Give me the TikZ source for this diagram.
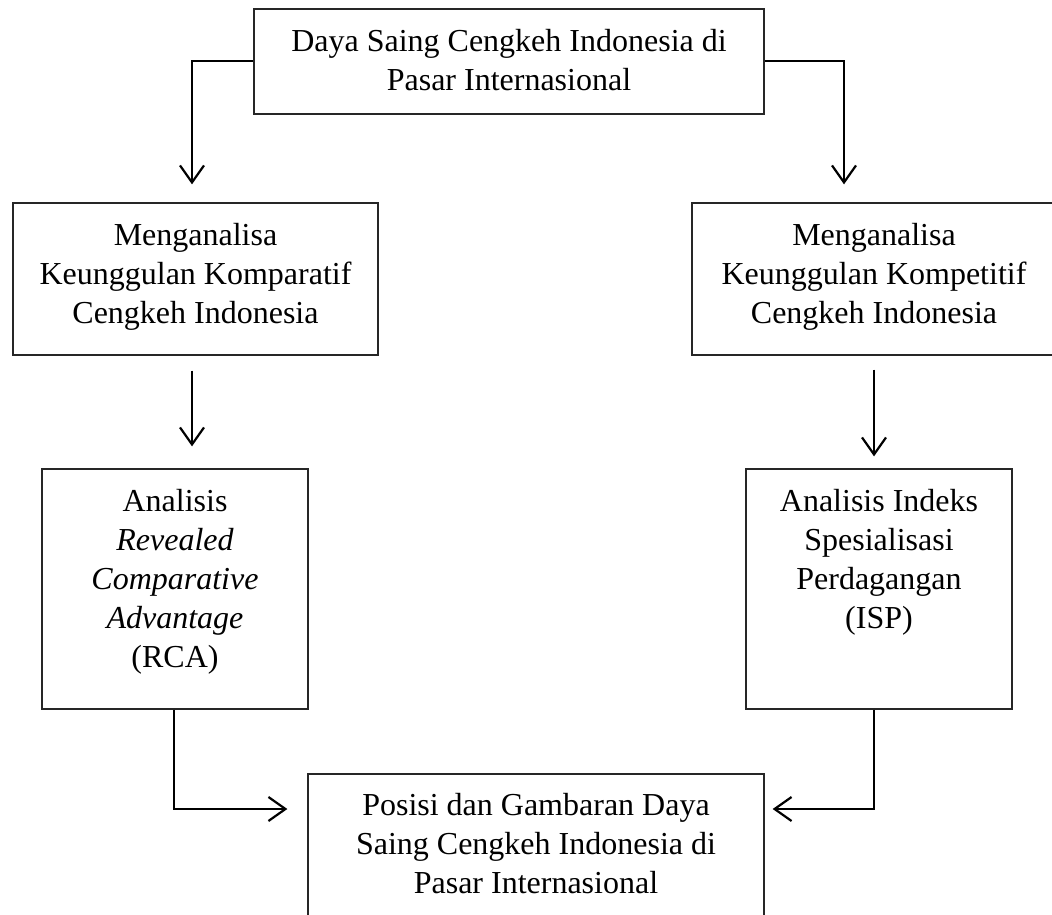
\documentclass[tikz,border=0pt]{standalone}
\usepackage{fontspec}
\setmainfont{Liberation Serif}
\usetikzlibrary{arrows.meta,calc}
\begin{document}
\begin{tikzpicture}[x=0.5pt,y=-0.5pt,
  box/.style={draw=black!85, line width=0.65pt, inner sep=0pt},
  lbl/.style={inner sep=0pt, align=center, anchor=north, font=\fontsize{16}{19.5}\selectfont},
  conn/.style={draw=black, line width=1pt},
  arr/.style={conn, -{Straight Barb[length=8.5pt,width=12pt,line width=1.1pt]}}]
\useasboundingbox (0,0) rectangle (1052,914);
\clip (0,0) rectangle (1052,914);
\fill[white] (0,0) rectangle (1052,914);
% boxes
\node[box, minimum width=255pt, minimum height=52.5pt] (bTop) at (509,61.5) {};
\node[box, minimum width=182.5pt, minimum height=76pt] (bL1) at (195.5,279) {};
\node[box, minimum width=182pt, minimum height=76pt] (bR1) at (874,279) {};
\node[box, minimum width=133pt, minimum height=120pt] (bRCA) at (175,589) {};
\node[box, minimum width=133pt, minimum height=120pt] (bISP) at (879,589) {};
\node[box, minimum width=228pt, minimum height=88pt] (bBot) at (536,862) {};
% labels
\node[lbl] (tTop) at ($(bTop.north)+(0,21)$) {Daya Saing Cengkeh Indonesia di\\Pasar Internasional};
\node[lbl] (tL1) at ($(bL1.north)+(0,21)$) {Menganalisa\\Keunggulan Komparatif\\Cengkeh Indonesia};
\node[lbl] (tR1) at ($(bR1.north)+(0,21)$) {Menganalisa\\Keunggulan Kompetitif\\Cengkeh Indonesia};
\node[lbl] (tRCA) at ($(bRCA.north)+(0,21)$) {Analisis\\\textit{Revealed}\\\textit{Comparative}\\\textit{Advantage}\\(RCA)};
\node[lbl] (tISP) at ($(bISP.north)+(0,21)$) {Analisis Indeks\\Spesialisasi\\Perdagangan\\(ISP)};
\node[lbl] (tBot) at ($(bBot.north)+(0,20)$) {Posisi dan Gambaran Daya\\Saing Cengkeh Indonesia di\\Pasar Internasional};
% connector end points
\coordinate (c1) at ($(bL1.north)+(-3.5,-18)$);
\coordinate (c2) at ($(bR1.north)+(-30,-18)$);
\coordinate (c3a) at ($(bL1.south)+(-3.5,15)$);
\coordinate (c3b) at ($(bRCA.north)+(17,-22)$);
\coordinate (c4a) at ($(bR1.south)+(0,14)$);
\coordinate (c4b) at ($(bISP.north)+(-5,-12)$);
\coordinate (c5) at ($(bBot.west)+(-20,-53)$);
\coordinate (c6) at ($(bBot.east)+(8,-53)$);
\coordinate (c5s) at ($(bRCA.south)+(-1,0)$);
\coordinate (c6s) at ($(bISP.south)+(-5,0)$);
% connectors
\draw[arr] (bTop.west) -| (c1);
\draw[arr] (bTop.east) -| (c2);
\draw[arr] (c3a) -- (c3b);
\draw[arr] (c4a) -- (c4b);
\draw[arr] (c5s) |- (c5);
\draw[arr] (c6s) |- (c6);
\end{tikzpicture}
\end{document}
